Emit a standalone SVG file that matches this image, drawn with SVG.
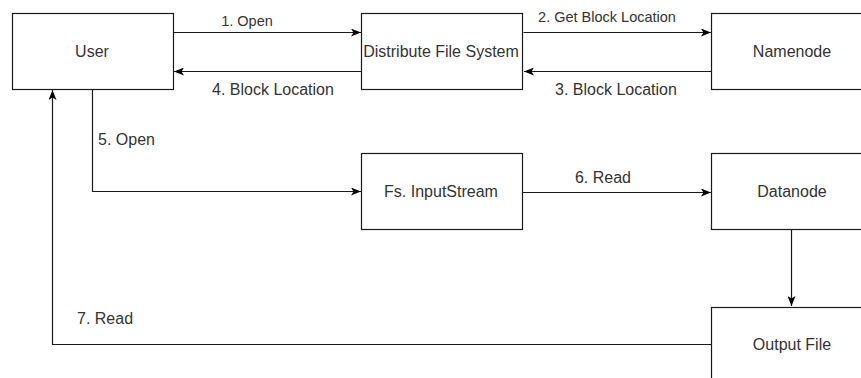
<svg xmlns="http://www.w3.org/2000/svg" width="861" height="378" viewBox="0 0 861 378">
  <style>
    .box { fill: #ffffff; stroke: #1a1a1a; stroke-width: 1.2; }
    .label { font-family: "Liberation Sans", Arial, sans-serif; font-size: 16px; fill: #333333; }
    .mid { text-anchor: middle; }
    .small { font-size: 14.5px; }
    .edge { fill: none; stroke: #1a1a1a; stroke-width: 1.2; }
  </style>
  <defs>
    <marker id="arrow" viewBox="0 0 10 8" markerUnits="userSpaceOnUse" markerWidth="10" markerHeight="8" refX="10" refY="4" orient="auto">
      <path d="M0,0 L10,4 L0,8 L2.5,4 Z" fill="#000000"/>
    </marker>
  </defs>
  <rect width="861" height="378" fill="#ffffff"/>

  <!-- connectors -->
  <g id="connectors">
    <line class="edge" x1="173.5" y1="32.5" x2="361" y2="32.5" marker-end="url(#arrow)"/>
    <line class="edge" x1="523.5" y1="32.5" x2="711" y2="32.5" marker-end="url(#arrow)"/>
    <line class="edge" x1="711" y1="71.5" x2="524" y2="71.5" marker-end="url(#arrow)"/>
    <line class="edge" x1="361" y1="71.5" x2="174" y2="71.5" marker-end="url(#arrow)"/>
    <polyline class="edge" points="92.5,89.5 92.5,191.5 361,191.5" marker-end="url(#arrow)"/>
    <line class="edge" x1="522.5" y1="192.5" x2="711" y2="192.5" marker-end="url(#arrow)"/>
    <line class="edge" x1="791.5" y1="229.5" x2="791.5" y2="306" marker-end="url(#arrow)"/>
    <polyline class="edge" points="711,344.5 52.5,344.5 52.5,90" marker-end="url(#arrow)"/>

    <text class="label small mid" x="247" y="25.5">1. Open</text>
    <text class="label small mid" x="607" y="21.5">2. Get Block Location</text>
    <text class="label mid" x="616" y="94.5">3. Block Location</text>
    <text class="label mid" x="273" y="94.5">4. Block Location</text>
    <text class="label" x="98" y="145">5. Open</text>
    <text class="label mid" x="603" y="183">6. Read</text>
    <text class="label" x="77" y="324">7. Read</text>
  </g>

  <!-- nodes -->
  <g id="user">
    <rect class="box" x="12.5" y="13.5" width="161" height="76"/>
    <text class="label mid" x="92" y="56.5">User</text>
  </g>
  <g id="dfs">
    <rect class="box" x="361.5" y="13.5" width="161" height="76"/>
    <text class="label mid" x="441" y="56.5">Distribute File System</text>
  </g>
  <g id="namenode">
    <rect class="box" x="711.5" y="13.5" width="161" height="76"/>
    <text class="label mid" x="792" y="56.5">Namenode</text>
  </g>
  <g id="inputstream">
    <rect class="box" x="361.5" y="153.5" width="161" height="76"/>
    <text class="label mid" x="441" y="197">Fs. InputStream</text>
  </g>
  <g id="datanode">
    <rect class="box" x="711.5" y="153.5" width="161" height="76"/>
    <text class="label mid" x="792" y="197">Datanode</text>
  </g>
  <g id="outputfile">
    <rect class="box" x="711.5" y="307.5" width="161" height="76"/>
    <text class="label mid" x="792" y="350">Output File</text>
  </g>
</svg>
